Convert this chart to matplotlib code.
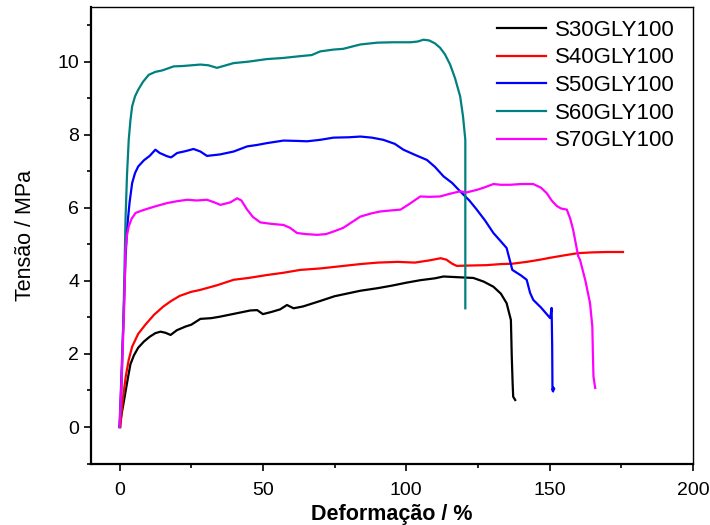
import numpy as np
import matplotlib.pyplot as plt
from matplotlib.ticker import MultipleLocator

plt.rcParams['font.family'] = ['Liberation Sans', 'DejaVu Sans']

# curvas tensão x deformação
labels = ['S30GLY100', 'S40GLY100', 'S50GLY100', 'S60GLY100', 'S70GLY100']
colors = ['#000000', '#ff0000', '#0000ff', '#008080', '#ff00ff']

x30 = [0, 0.7, 1.5, 2.2, 3, 3.8, 5, 6.5, 8.5, 10.5, 12.5, 14.3, 16, 17.8, 20, 23, 25, 28.2, 32, 35, 40, 45.6, 48,
       50, 53, 56, 58.4, 60.7, 64, 70, 75, 84, 90, 95, 100, 105, 110, 113, 118, 123.4, 127,
       130.4, 133, 135, 136.5, 136.8, 137.1, 137.3, 138]
y30 = [0, 0.35, 0.7, 1.02, 1.38, 1.72, 1.96, 2.17, 2.34, 2.47, 2.57, 2.61, 2.58, 2.52, 2.65, 2.75, 2.8, 2.96, 2.98, 3.02, 3.1, 3.19, 3.2,
       3.09, 3.15, 3.22, 3.34, 3.25, 3.3, 3.45, 3.58, 3.73, 3.8, 3.87, 3.95, 4.02, 4.07, 4.12, 4.1, 4.08, 3.98,
       3.84, 3.65, 3.39, 2.93, 1.93, 1.2, 0.83, 0.74]

x40 = [0.3, 0.9, 1.5, 2.2, 3.2, 4.4, 6.5, 9, 12, 15.3, 18, 21, 25, 28, 34, 39.8, 45, 51.4, 57, 63, 70,
       77, 84, 90, 97, 103, 108, 112, 114, 116, 117.6, 122, 128, 133, 137, 142, 146.7, 150, 156,
       160, 165, 170, 175.6]
y40 = [0, 0.58, 0.98, 1.4, 1.84, 2.2, 2.55, 2.8, 3.07, 3.3, 3.45, 3.59, 3.7, 3.75, 3.88, 4.03, 4.08, 4.16, 4.22, 4.3, 4.34,
       4.4, 4.46, 4.5, 4.52, 4.5, 4.56, 4.62, 4.58, 4.47, 4.41, 4.42, 4.43, 4.46, 4.47, 4.52, 4.58, 4.63, 4.71,
       4.76, 4.78, 4.79, 4.79]

x50 = [0, 0.7, 1.4, 2.1, 2.7, 3.5, 4.4, 5.4, 6.5, 8.5, 10.5, 12.5, 14, 16.6, 18, 20.1, 23, 25.8, 28.2, 30.5, 35,
       39.8, 44.5, 48, 51.4, 57.2, 62, 65.4, 70, 74.6, 80, 84, 88, 92, 96, 99, 103, 107.2, 110, 113,
       116, 118.8, 122, 124.6, 127.5, 130.4, 133, 135, 137, 140, 142, 143.2, 144.3, 147, 150.2, 150.7,
       150.9, 151, 151.3, 151.6, 151.2]
y50 = [0, 1.5, 3.0, 4.67, 5.5, 6.15, 6.68, 6.95, 7.13, 7.3, 7.42, 7.59, 7.5, 7.41, 7.38, 7.5, 7.55, 7.61, 7.54, 7.42, 7.46,
       7.54, 7.68, 7.72, 7.77, 7.84, 7.83, 7.82, 7.86, 7.92, 7.93, 7.95, 7.92, 7.86, 7.75, 7.59, 7.45, 7.31, 7.12, 6.86,
       6.68, 6.45, 6.2, 5.95, 5.65, 5.31, 5.08, 4.9, 4.3, 4.15, 4.03, 3.67, 3.48, 3.27, 2.98, 3.26,
       2.2, 1.01, 1.08, 1.05, 0.98]

x60 = [0, 0.6, 1.5, 2.1, 2.6, 3.2, 3.8, 4.4, 5.4, 6.5, 8.2, 10.2, 12.5, 14.9, 18.9, 22, 28.2, 31, 34, 39.8,
       45, 51.4, 57, 63, 67, 70, 74.6, 78, 84, 90, 95.5, 101.4, 104, 106, 108, 110, 111.8, 113.5,
       115.3, 117, 118.8, 119.8, 120.3, 120.6, 120.6]
y60 = [0, 0.74, 3.5, 5.72, 6.9, 7.86, 8.4, 8.78, 9.05, 9.23, 9.45, 9.64, 9.72, 9.76, 9.87, 9.88, 9.92, 9.9, 9.83, 9.96,
       10.0, 10.07, 10.1, 10.15, 10.18, 10.28, 10.33, 10.35, 10.47, 10.52, 10.53, 10.53, 10.55, 10.6, 10.58, 10.5, 10.38, 10.2,
       9.92, 9.55, 9.05, 8.5, 8.1, 7.86, 3.25]

x70 = [0, 0.7, 1.5, 2.1, 2.6, 3.2, 4.2, 5.6, 8, 10, 12.5, 16.6, 20, 23.6, 27, 30.5, 33, 35.2, 38.7, 41, 42.5,
       44.5, 46.5, 49.1, 53, 57.2, 59.5, 61.9, 65, 68.9, 72, 74.6, 78, 84, 88, 91, 95, 98, 101, 104.9,
       108, 111.8, 115, 118.8, 121, 124.6, 127, 130.4, 133, 136.2, 140, 144.3, 147, 149, 150.7, 152.5,
       154, 156, 157.2, 158.2, 160, 160.6, 162.5, 164.1, 164.9, 165.1, 165.3, 165.9]
y70 = [0, 1.3, 3.0, 4.85, 5.25, 5.49, 5.7, 5.86, 5.93, 5.98, 6.04, 6.13, 6.18, 6.22, 6.2, 6.22, 6.15, 6.08, 6.15, 6.26, 6.2,
       5.95, 5.75, 5.6, 5.56, 5.53, 5.45, 5.31, 5.28, 5.26, 5.28, 5.35, 5.45, 5.76, 5.85, 5.9, 5.93, 5.95, 6.1, 6.31,
       6.3, 6.31, 6.38, 6.45, 6.42, 6.49, 6.55, 6.65, 6.63, 6.63, 6.65, 6.65, 6.55, 6.4, 6.2, 6.05,
       5.98, 5.95, 5.7, 5.4, 4.67, 4.58, 4.0, 3.39, 2.75, 2.0, 1.38, 1.07]

xs = [x30, x40, x50, x60, x70]
ys = [y30, y40, y50, y60, y70]

fig = plt.figure(figsize=(7.1, 5.25), dpi=100)
ax = fig.add_axes([0.128, 0.117, 0.848, 0.870])

for x, y, c, lab in zip(xs, ys, colors, labels):
    ax.plot(x, y, color=c, lw=1.6, label=lab)

ax.set_xlim(-10, 200)
ax.set_ylim(-1, 11.5)
ax.xaxis.set_major_locator(MultipleLocator(50))
ax.xaxis.set_minor_locator(MultipleLocator(25))
ax.yaxis.set_major_locator(MultipleLocator(2))
ax.yaxis.set_minor_locator(MultipleLocator(1))
ax.tick_params(which='both', direction='out', top=False, right=False, width=1.2, labelsize=14)
ax.tick_params(which='major', length=5)
ax.tick_params(which='minor', length=3)
ax.tick_params(axis='x', which='major', pad=8)
for s in ['left', 'bottom']:
    ax.spines[s].set_linewidth(1.6)
for s in ['top', 'right']:
    ax.spines[s].set_linewidth(1.0)

ax.set_xlabel('Deformação / %', fontsize=15.5, fontweight='bold', labelpad=4)
ax.set_ylabel('Tensão / MPa', fontsize=15.5, labelpad=15)

ax.legend(loc='upper right', bbox_to_anchor=(0.97, 0.972), frameon=False, fontsize=16,
          handlelength=2.2, handletextpad=0.4, labelspacing=0.3, borderaxespad=0, borderpad=0)

fig.savefig('out.png', dpi=100)
